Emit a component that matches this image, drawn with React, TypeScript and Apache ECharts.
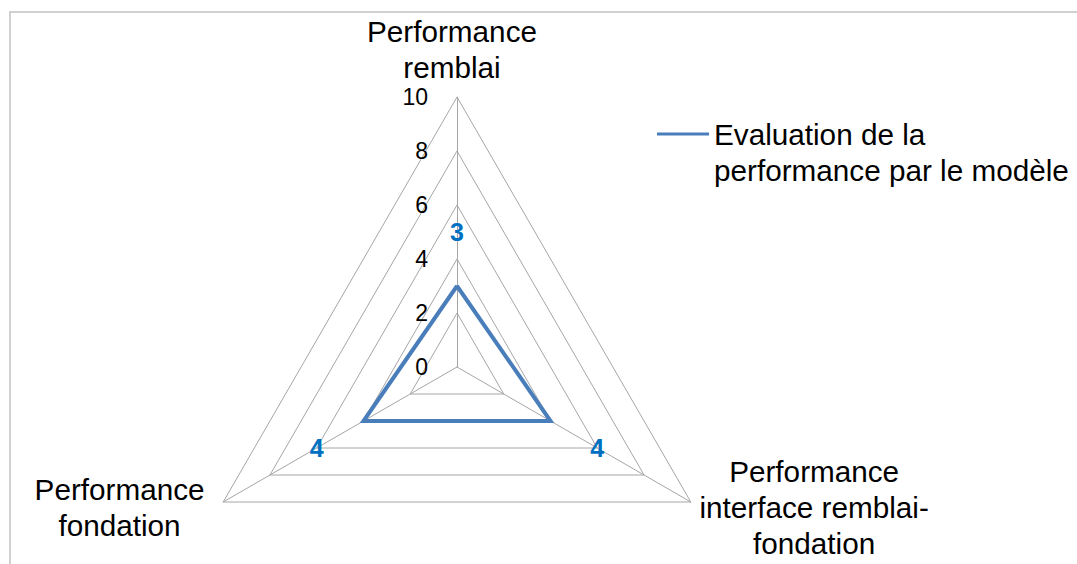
import React, { useEffect, useRef } from 'react';
import * as echarts from 'echarts';

const FONT = '"Liberation Sans", Arial, sans-serif';
const SERIES_NAME = 'Evaluation de la\nperformance par le modèle';
const indicatorNames = [
  'Performance\nremblai',
  'Performance\nfondation',
  'Performance\ninterface remblai-\nfondation',
];
const values = [3, 4, 4];
const axisMin = 0;
const axisMax = 10;

const CENTER = [457, 367];
const RADIUS = 270;
const LABEL_DIST = 54;
const GRID = '#a6a6a6';
const LINE = '#4A7EBB';
const NAME_SIZE = 29.7;

export default function App() {
  const ref = useRef<HTMLDivElement>(null);
  useEffect(() => {
    if (!ref.current) return;
    const chart = echarts.init(ref.current, undefined, { renderer: 'svg' });
    const option: any = {
      animation: false,
      backgroundColor: '#ffffff',
      graphic: [
        {
          type: 'rect',
          silent: true,
          z: -10,
          shape: { x: 10, y: 12, width: 1300, height: 800 },
          style: { fill: 'none', stroke: '#d0d0d0', lineWidth: 2 },
        },
      ],
      legend: {
        left: 657,
        top: 80,
        padding: 0,
        icon: 'rect',
        itemWidth: 52,
        itemHeight: 3,
        selectedMode: false,
        data: [SERIES_NAME],
        formatter: (n: string) => '\n' + n,
        textStyle: {
          fontSize: NAME_SIZE,
          lineHeight: 36,
          color: '#000',
          fontFamily: FONT,
        },
      },
      radar: {
        center: CENTER,
        radius: RADIUS,
        startAngle: 90,
        splitNumber: 5,
        shape: 'polygon',
        indicator: indicatorNames.map((n, i) => {
          const ind: any = { name: n, min: axisMin, max: axisMax };
          if (i === 0) {
            ind.axisLabel = {
              show: true,
              margin: 29,
              color: '#000',
              fontSize: 23,
              fontFamily: FONT,
              showMinLabel: true,
              showMaxLabel: true,
            };
          }
          return ind;
        }),
        axisNameGap: 10,
        axisName: {
          color: '#000',
          fontSize: NAME_SIZE,
          lineHeight: 36,
          fontFamily: FONT,
          padding: [0, 10, 0, 0],
          formatter: (name: string) =>
            name
              .split('\n')
              .map((s) => `{c|${s}}`)
              .join('\n'),
          rich: {
            c: {
              align: 'center',
              fontSize: NAME_SIZE,
              lineHeight: 36,
              fontFamily: FONT,
              color: '#000',
            },
          },
        },
        axisLine: { show: true, lineStyle: { color: GRID, width: 1 } },
        splitLine: { show: true, lineStyle: { color: GRID, width: 1 } },
        splitArea: { show: false },
        axisTick: { show: false },
        axisLabel: { show: false },
      },
      series: [
        {
          type: 'radar',
          name: SERIES_NAME,
          silent: true,
          symbol: 'circle',
          symbolSize: 2,
          itemStyle: { color: LINE },
          lineStyle: { color: LINE, width: 4, join: 'miter' },
          emphasis: { disabled: true },
          label: {
            show: true,
            position: 'inside',
            color: '#0070C0',
            fontSize: 25,
            fontWeight: 'bold',
            fontFamily: FONT,
          },
          labelLayout: (p: any) => {
            const px = p.rect.x + p.rect.width / 2;
            const py = p.rect.y + p.rect.height / 2;
            const dx = px - CENTER[0];
            const dy = py - CENTER[1];
            const len = Math.hypot(dx, dy) || 1;
            return { dx: (dx / len) * LABEL_DIST, dy: (dy / len) * LABEL_DIST };
          },
          data: [{ name: SERIES_NAME, value: values }],
        },
      ],
    };
    chart.setOption(option);
    return () => chart.dispose();
  }, []);
  return (
    <div
      ref={ref}
      style={{ position: 'fixed', left: 0, top: 0, width: 1077, height: 564, overflow: 'hidden' }}
    />
  );
}
